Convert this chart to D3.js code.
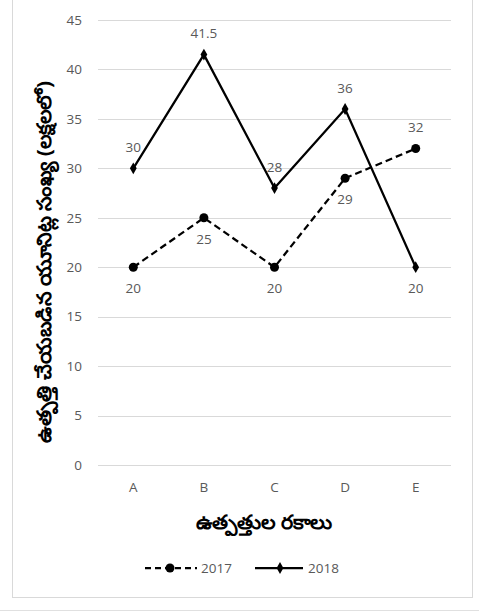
<!DOCTYPE html>
<html><head><meta charset="utf-8">
<script src="https://cdn.jsdelivr.net/npm/d3@7"></script>
<style>body{margin:0;background:#fff;} text{font-family:"Open Sans","Noto Sans",sans-serif;}</style>
</head><body>
<script>
const categories = ["A","B","C","D","E"];
const values2017 = [20,25,20,29,32];
const values2018 = [30,41.5,28,36,20];
const yTicks = [0,5,10,15,20,25,30,35,40,45];
const pos2017 = ["below","below","below","below","above"];
const pos2018 = ["above","above","above","above","below"];
const xTitle = "ఉత్పత్తుల రకాలు";
const yTitle = "ఉత్పత్తి చేయబడిన యూనిట్ల సంఖ్య (లక్షలలో)";
const seriesNames = ["2017","2018"];

const W=479,H=613;
const svg=d3.select("body").append("svg").attr("width",W).attr("height",H);
svg.append("rect").attr("x",12.5).attr("y",-1).attr("width",460).attr("height",598.5).attr("fill","#fff").attr("stroke","#d9d9d9");
svg.append("line").attr("x1",0).attr("x2",W).attr("y1",610.5).attr("y2",610.5).attr("stroke","#e0e0e0");

const x=d3.scaleBand().domain(categories).range([98,451]);
const y=d3.scaleLinear().domain([0,45]).range([465,20]);
const cx=d=>x(d)+x.bandwidth()/2;
const fs=13.5, grey="#595959";

svg.append("g").selectAll("line").data(yTicks).join("line")
 .attr("x1",98).attr("x2",451).attr("y1",d=>Math.round(y(d))+0.5).attr("y2",d=>Math.round(y(d))+0.5)
 .attr("stroke","#d9d9d9").attr("stroke-width",1);
svg.append("g").selectAll("text").data(yTicks).join("text")
 .attr("x",82).attr("y",d=>y(d)).attr("dy","0.35em").attr("text-anchor","end")
 .attr("font-size",fs).attr("fill",grey).text(d=>d);
svg.append("g").selectAll("text").data(categories).join("text")
 .attr("x",d=>cx(d)).attr("y",487).attr("dy","0.35em").attr("text-anchor","middle")
 .attr("font-size",fs).attr("fill",grey).text(d=>d);

svg.append("text").attr("x",264).attr("y",522).attr("dy","0.35em").attr("text-anchor","middle")
 .attr("font-size",20).attr("font-weight","bold").attr("fill","#000")
 .attr("textLength",136).attr("lengthAdjust","spacingAndGlyphs").text(xTitle);
svg.append("text").attr("transform","translate(44,262) rotate(-90)").attr("dy","0.35em").attr("text-anchor","middle")
 .attr("font-size",20).attr("font-weight","bold").attr("fill","#000")
 .attr("textLength",362).attr("lengthAdjust","spacingAndGlyphs").text(yTitle);

const line=d3.line().x((d,i)=>cx(categories[i])).y(d=>y(d));
svg.append("path").attr("d",line(values2017)).attr("fill","none").attr("stroke","#000").attr("stroke-width",2.25).attr("stroke-dasharray","7,4");
svg.append("path").attr("d",line(values2018)).attr("fill","none").attr("stroke","#000").attr("stroke-width",2.25);

svg.append("g").selectAll("circle").data(values2017).join("circle")
 .attr("cx",(d,i)=>cx(categories[i])).attr("cy",d=>y(d)).attr("r",4.5).attr("fill","#000");
const diamond=d3.symbol().type(d3.symbolDiamond).size(40);
svg.append("g").selectAll("path").data(values2018).join("path")
 .attr("d",diamond).attr("transform",(d,i)=>`translate(${cx(categories[i])},${y(d)})`).attr("fill","#000");

function labels(vals,pos){
 svg.append("g").selectAll("text").data(vals).join("text")
  .attr("x",(d,i)=>cx(categories[i])).attr("y",(d,i)=>y(d)+(pos[i]==="above"?-21:21))
  .attr("dy","0.35em").attr("text-anchor","middle").attr("font-size",fs).attr("fill",grey).text(d=>d);
}
labels(values2017,pos2017);
labels(values2018,pos2018);

// legend
const ly=568;
svg.append("line").attr("x1",145).attr("x2",197).attr("y1",ly).attr("y2",ly).attr("stroke","#000").attr("stroke-width",2.25).attr("stroke-dasharray","6,4");
svg.append("circle").attr("cx",170).attr("cy",ly).attr("r",4.5).attr("fill","#000");
svg.append("text").attr("x",201).attr("y",ly).attr("dy","0.35em").attr("font-size",fs).attr("fill",grey).text(seriesNames[0]);
svg.append("line").attr("x1",255).attr("x2",303).attr("y1",ly).attr("y2",ly).attr("stroke","#000").attr("stroke-width",2.25);
svg.append("path").attr("d",diamond).attr("transform",`translate(280,${ly})`).attr("fill","#000");
svg.append("text").attr("x",308).attr("y",ly).attr("dy","0.35em").attr("font-size",fs).attr("fill",grey).text(seriesNames[1]);
</script>
</body></html>
